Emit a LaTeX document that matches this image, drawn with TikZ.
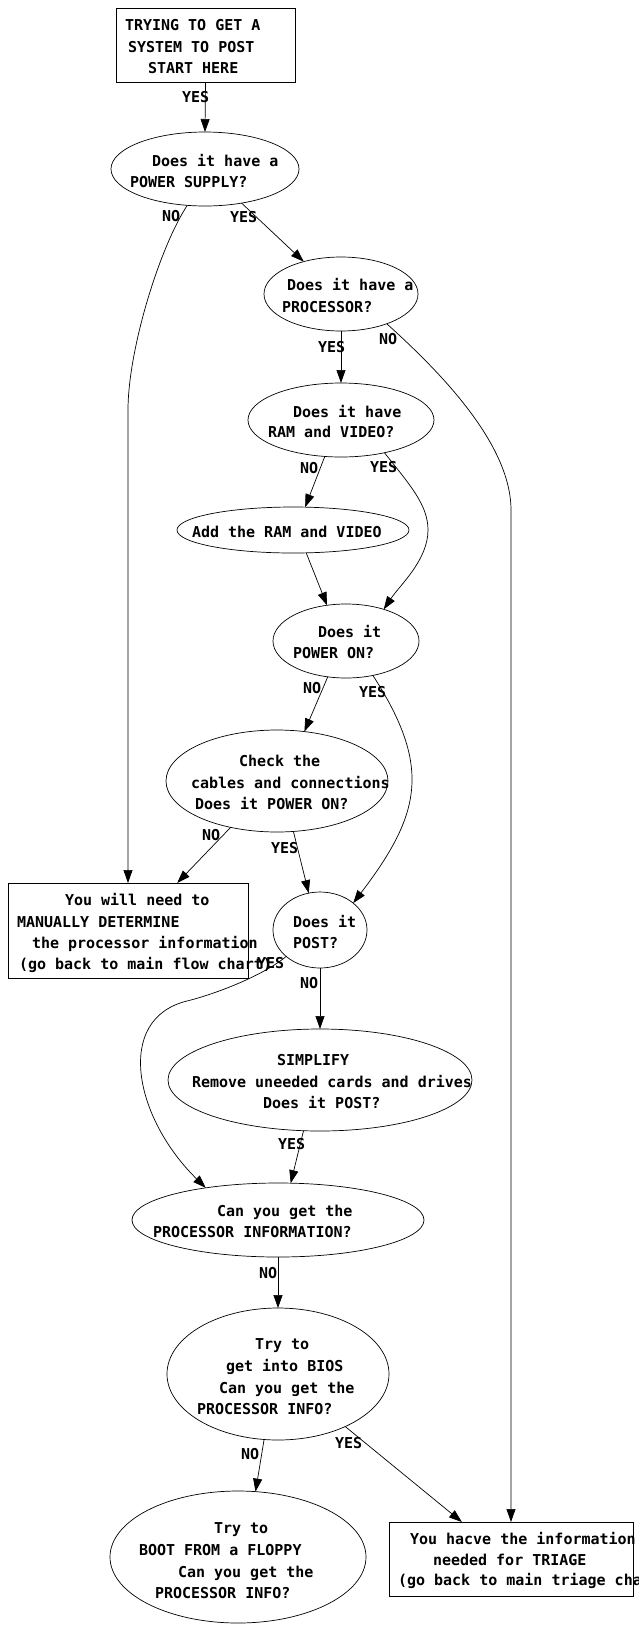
\documentclass[tikz,border=0pt]{standalone}
\usepackage{fontspec}
\newfontfamily\dvm{DejaVu Sans Mono Bold}
\usetikzlibrary{shapes.geometric,arrows.meta}
\newcommand\tline[3]{\makebox[0pt][l]{\hspace*{#1pt}\raisebox{#2pt}[0pt][0pt]{#3}}}
\begin{document}
\begin{tikzpicture}[x=1pt,y=-1pt,
  every node/.style={font=\dvm\fontsize{15}{18}\selectfont, inner sep=0pt, outer sep=0pt},
  ell/.style={draw, ellipse, line width=0.7pt},
  box/.style={draw, rectangle, line width=0.7pt},
  lbl/.style={anchor=base west},
  conn/.style={line width=0.7pt, -{Triangle[length=13pt,width=9pt]}},
]
\useasboundingbox (0,0) rectangle (639,1634);
\fill[white] (0,0) rectangle (639,1634);
\clip (0,0) rectangle (639,1634);

% nodes
\node[box, minimum width=179, minimum height=74] (start) at (205.5,45)
  {\tline{-80.5}{15}{TRYING TO GET A}\tline{-77.5}{-7}{SYSTEM TO POST}\tline{-57.5}{-28}{START HERE}};
\node[ell, minimum width=188, minimum height=74] (ps) at (205,169)
  {\tline{-53}{3}{Does it have a}\tline{-75}{-18}{POWER SUPPLY?}};
\node[ell, minimum width=154, minimum height=74] (proc) at (341,294)
  {\tline{-54}{4}{Does it have a}\tline{-59}{-18}{PROCESSOR?}};
\node[ell, minimum width=186, minimum height=74] (ram) at (341,420)
  {\tline{-48}{3}{Does it have}\tline{-73}{-17}{RAM and VIDEO?}};
\node[ell, minimum width=232, minimum height=46] (add) at (293,530)
  {\tline{-101}{-7}{Add the RAM and VIDEO}};
\node[ell, minimum width=146, minimum height=74] (pwr) at (346,641)
  {\tline{-28}{4}{Does it}\tline{-53}{-17}{POWER ON?}};
\node[ell, minimum width=222, minimum height=102] (check) at (277,781)
  {\tline{-38}{15}{Check the}\tline{-86}{-7}{cables and connections}\tline{-82}{-28}{Does it POWER ON?}};
\node[box, minimum width=240, minimum height=95] (manual) at (128,930.5)
  {\tline{-63}{25.5}{You will need to}\tline{-111}{3.5}{MANUALLY DETERMINE}\tline{-96}{-17.5}{the processor information}\tline{-109}{-38.5}{(go back to main flow chart)}};
\node[ell, minimum width=94, minimum height=76] (post) at (320,930)
  {\tline{-27}{3}{Does it}\tline{-27}{-18}{POST?}};
\node[ell, minimum width=304, minimum height=102] (simp) at (320,1080)
  {\tline{-43}{15}{SIMPLIFY}\tline{-128}{-7}{Remove uneeded cards and drives}\tline{-57}{-28}{Does it POST?}};
\node[ell, minimum width=292, minimum height=74] (info) at (278,1220)
  {\tline{-61}{4}{Can you get the}\tline{-125}{-17}{PROCESSOR INFORMATION?}};
\node[ell, minimum width=222, minimum height=132] (bios) at (278,1374)
  {\tline{-23}{25}{Try to}\tline{-52}{3}{get into BIOS}\tline{-59}{-19}{Can you get the}\tline{-81}{-40}{PROCESSOR INFO?}};
\node[ell, minimum width=256, minimum height=132] (floppy) at (238,1557)
  {\tline{-24}{24}{Try to}\tline{-99}{2}{BOOT FROM a FLOPPY}\tline{-60}{-20}{Can you get the}\tline{-83}{-41}{PROCESSOR INFO?}};
\node[box, minimum width=244, minimum height=74] (triage) at (511,1559)
  {\tline{-101}{15}{You hacve the information}\tline{-78}{-6}{needed for TRIAGE}\tline{-113}{-26}{(go back to main triage chart)}};

% connectors
\coordinate (psno) at (128,410);
\coordinate (procno) at (511,510);
\coordinate (ramyes) at (428,530);
\coordinate (postyes) at (187,1001);
\draw[conn] (start.south) -- (ps.north);
\draw[conn] (ps.317) -- (proc.139);
\draw[conn] (ps.244) .. controls (159.5,247.5) and (128,350) .. (psno) -- (manual.north);
\draw[conn] (proc.south) -- (ram.north);
\draw[conn] (proc.327) .. controls (431,364) and (511,440) .. (procno) -- (triage.north);
\draw[conn] (ram.246) -- (add.62);
\draw[conn] (ram.323) .. controls (410,485) and (428,505) .. (ramyes) .. controls (428,560) and (400,585) .. (pwr.40);
\draw[conn] (add.300) -- (pwr.118);
\draw[conn] (pwr.243) -- (check.61);
\draw[conn] (pwr.308) .. controls (432,767) and (421,814) .. (post.39);
\draw[conn] (check.225) -- (manual.44);
\draw[conn] (check.288) -- (post.107);
\draw[conn] (post.south) -- (simp.north);
\draw[conn] (post.218) .. controls (263.2,975.5) and (216.1,993.8) .. (postyes) .. controls (114,1019) and (134.5,1118) .. (info.156);
\draw[conn] (simp.252) -- (info.71);
\draw[conn] (info.south) -- (bios.north);
\draw[conn] (bios.258) -- (floppy.75);
\draw[conn] (bios.322) -- (triage.143);

% labels
\node[lbl] (y0) at (182,102) {YES};
\node[lbl] (n1) at (162,221) {NO};
\node[lbl] (y1) at (230,222) {YES};
\node[lbl] (y2) at (318,352) {YES};
\node[lbl] (n2) at (379,344) {NO};
\node[lbl] (n3) at (300,473) {NO};
\node[lbl] (y3) at (370,472) {YES};
\node[lbl] (n4) at (303,693) {NO};
\node[lbl] (y4) at (359,697) {YES};
\node[lbl] (n5) at (202,840) {NO};
\node[lbl] (y5) at (271,853) {YES};
\node[lbl] (y6) at (257,968) {YES};
\node[lbl] (n6) at (300,988) {NO};
\node[lbl] (y7) at (278,1149) {YES};
\node[lbl] (n7) at (259,1278) {NO};
\node[lbl] (n8) at (241,1459) {NO};
\node[lbl] (y8) at (335,1448) {YES};
\end{tikzpicture}
\end{document}
